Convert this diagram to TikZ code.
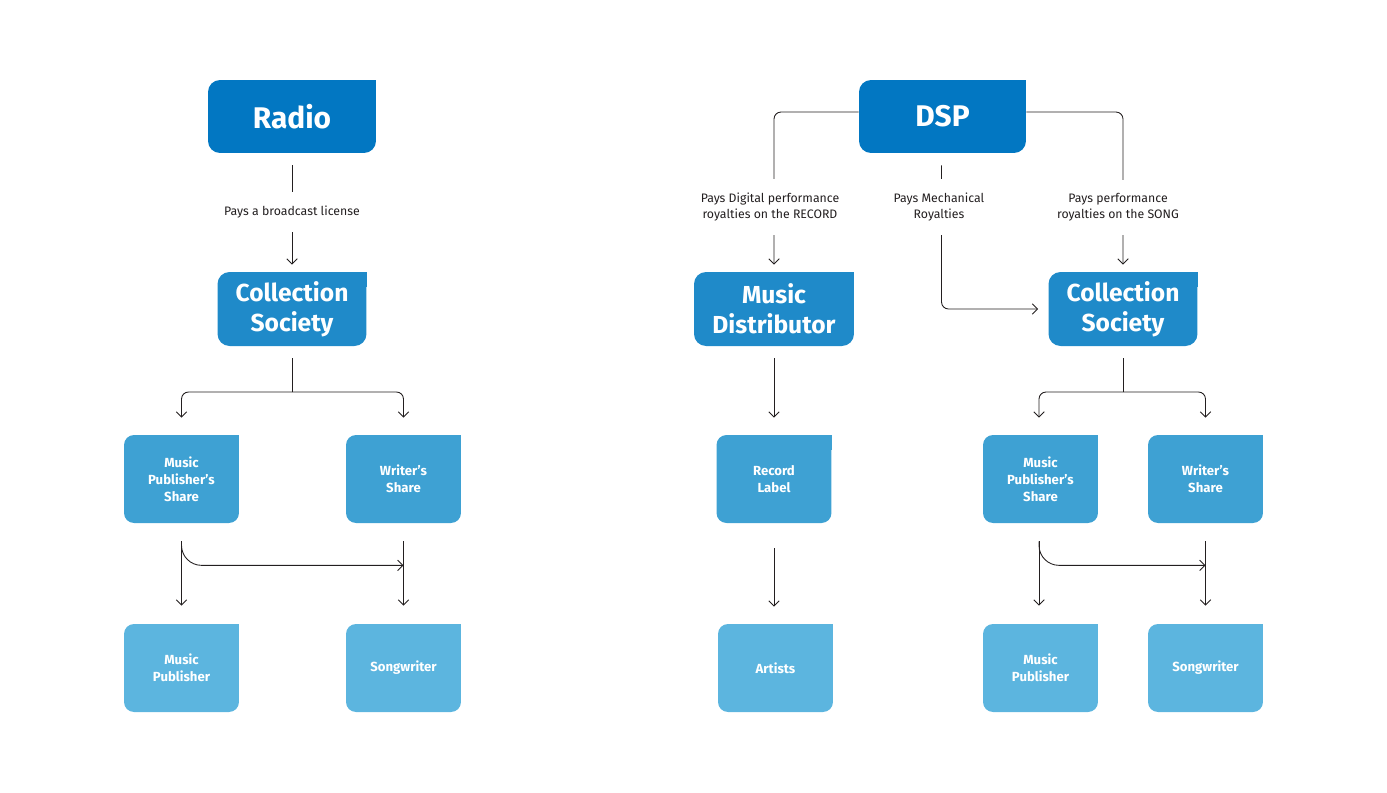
\documentclass[tikz,border=0pt]{standalone}
\usepackage{fontspec}
\setmainfont{Fira Sans}
\usepackage{xcolor}
\usetikzlibrary{arrows.meta,positioning,calc}
\definecolor{tier1}{HTML}{0277C2}
\definecolor{tier2}{HTML}{1F8AC9}
\definecolor{tier3}{HTML}{3EA1D3}
\definecolor{tier4}{HTML}{5CB5DF}
\definecolor{ink}{HTML}{231F20}

\begin{document}
\begin{tikzpicture}[
    x=0.02cm, y=-0.02cm,
    blk/.style={rectangle, fill=#1, text=white, align=center, rounded corners=0.24cm, inner sep=0pt,
        append after command={\pgfextra{\fill[#1] ($(\tikzlastnode.north east)+(-0.3cm,0cm)$) rectangle ($(\tikzlastnode.north east)+(0cm,-0.3cm)$);}}},
    big/.style={blk=tier1, minimum width=3.36cm, minimum height=1.46cm, font=\bfseries\fontsize{17}{20}\selectfont},
    mid/.style={blk=tier2, minimum height=1.48cm, font=\bfseries\fontsize{14}{17}\selectfont},
    share/.style={blk=#1, minimum width=2.3cm, minimum height=1.76cm, rounded corners=0.2cm, font=\bfseries\fontsize{7.5}{9.6}\selectfont},
    share/.default=tier3,
    payee/.style={share=tier4},
    lbl/.style={fill=white, align=center, inner xsep=2pt, inner ysep=0.27cm, text=ink, font=\fontsize{7}{9.2}\selectfont},
    arrow/.style={-{Straight Barb[length=3pt,width=6pt]}, draw=ink, line width=0.5pt}
]
\useasboundingbox (0,0) rectangle (1387,792);

% Left - Radio
\node[big] (radio) at (292,116.5) {Radio};
\node[mid, minimum width=2.98cm] (socl) at (292,309) {Collection\\Society};
\node[share] (mpsl) at (181.5,479) {Music\\Publisher's\\Share};
\node[share] (wsl) at (403.5,479) {Writer's\\Share};
\node[payee] (mpl) at (181.5,668) {Music\\Publisher};
\node[payee] (swl) at (403.5,668) {Songwriter};

% Right - DSP
\node[big, minimum width=3.34cm] (dsp) at (942.5,116.5) {DSP};
\node[mid, minimum width=3.2cm] (dist) at (774,309) {Music\\Distributor};
\node[mid, minimum width=2.98cm] (socr) at (1123,309) {Collection\\Society};
\node[share] (label) at (774,479) {Record\\Label};
\node[share] (mpsr) at (1040.5,479) {Music\\Publisher's\\Share};
\node[share] (wsr) at (1205.5,479) {Writer's\\Share};
\node[payee] (artists) at (775.5,668) {Artists};
\node[payee] (mpr) at (1040.5,668) {Music\\Publisher};
\node[payee] (swr) at (1205.5,668) {Songwriter};

% Arrows - left
\draw[arrow] ([yshift=-0.24cm]radio.south) -- ([yshift=0.14cm]socl.north);
\node[lbl] (bcast) at (292,212) {Pays a broadcast license};
\coordinate (splitl) at (292,392);
\draw[ink, line width=0.5pt] ([yshift=-0.24cm]socl.south) -- (splitl);
\draw[arrow, rounded corners=4pt] (splitl) -| ([yshift=0.34cm]mpsl.north);
\draw[arrow, rounded corners=4pt] (splitl) -| ([yshift=0.34cm]wsl.north);
\draw[arrow] ([yshift=-0.36cm]mpsl.south) -- ([yshift=0.36cm]mpl.north);
\draw[arrow] ([yshift=-0.36cm]wsl.south) -- ([yshift=0.36cm]swl.north);
\draw[arrow, rounded corners=0.4cm] ([yshift=-0.36cm]mpsl.south) |- ($(wsl.south)+(0,-0.84cm)$);

% Arrows - right
\draw[arrow, rounded corners=4pt] (dsp.west |- 0,112) -| ([yshift=0.14cm]dist.north);
\draw[arrow, rounded corners=4pt] (dsp.east |- 0,112) -| ([yshift=0.14cm]socr.north);
\draw[arrow, rounded corners=4pt] ([xshift=-0.02cm,yshift=-0.24cm]dsp.south) |- ([xshift=-0.2cm]socr.west);
\node[lbl] (digital) at (770,207) {Pays Digital performance\\royalties on the RECORD};
\node[lbl] (mech) at (939,207) {Pays Mechanical\\Royalties};
\node[lbl] (perf) at (1118,207) {Pays performance\\royalties on the SONG};
\draw[arrow] ([yshift=-0.24cm]dist.south) -- ([yshift=0.34cm]label.north);
\draw[arrow] ([yshift=-0.5cm]label.south) -- ([yshift=0.34cm]label.south |- artists.north);
\coordinate (splitr) at (1123,392);
\draw[ink, line width=0.5pt] ([yshift=-0.24cm]socr.south) -- (splitr);
\draw[arrow, rounded corners=4pt] (splitr) -| ([xshift=-0.03cm,yshift=0.34cm]mpsr.north);
\draw[arrow, rounded corners=4pt] (splitr) -| ([yshift=0.34cm]wsr.north);
\draw[arrow] ([xshift=-0.03cm,yshift=-0.36cm]mpsr.south) -- ([xshift=-0.03cm,yshift=0.36cm]mpr.north);
\draw[arrow] ([yshift=-0.36cm]wsr.south) -- ([yshift=0.36cm]swr.north);
\draw[arrow, rounded corners=0.4cm] ([xshift=-0.03cm,yshift=-0.36cm]mpsr.south) |- ($(wsr.south)+(0,-0.84cm)$);

\end{tikzpicture}
\end{document}
